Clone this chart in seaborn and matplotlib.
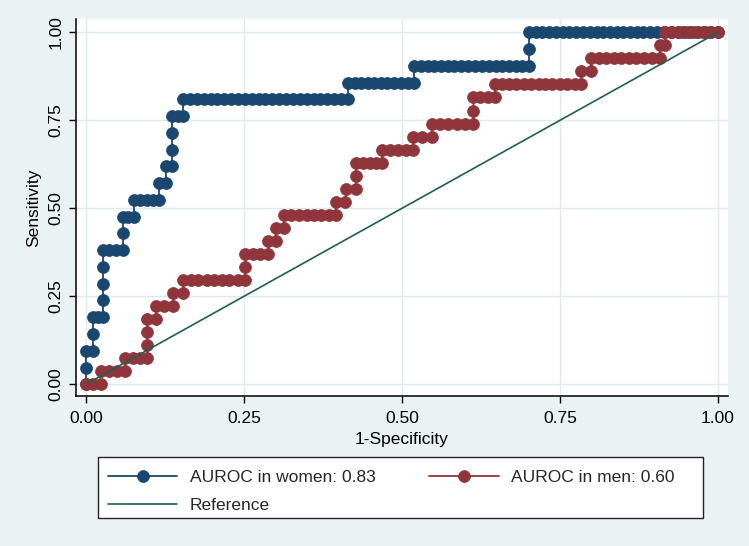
import matplotlib
matplotlib.use("Agg")
import matplotlib.pyplot as plt
from matplotlib.patches import Rectangle
import seaborn as sns
import pandas as pd

# ---------------- data ----------------
# Women: 21 positives; each list = FPR values of the points on one sensitivity level
women_levels = [
    [0.0],
    [0.0],
    [0.0, 0.011],
    [0.011],
    [0.011, 0.019, 0.027],
    [0.027],
    [0.027],
    [0.027],
    [0.027, 0.037, 0.048, 0.058],
    [0.058],
    [0.058, 0.067, 0.076],
    [0.076, 0.086, 0.096, 0.106, 0.116],
    [0.116, 0.127],
    [0.127, 0.136],
    [0.136],
    [0.136],
    [0.136, 0.145, 0.154],
    [0.154, 0.165, 0.176, 0.186, 0.197, 0.208, 0.219, 0.230, 0.240, 0.251, 0.262,
     0.273, 0.284, 0.295, 0.305, 0.316, 0.327, 0.338, 0.349, 0.360, 0.370, 0.381,
     0.392, 0.403, 0.414],
    [0.414, 0.425, 0.435, 0.446, 0.456, 0.467, 0.477, 0.488, 0.498, 0.509, 0.519],
    [0.519, 0.530, 0.541, 0.551, 0.562, 0.573, 0.583, 0.594, 0.605, 0.616, 0.626,
     0.637, 0.648, 0.658, 0.669, 0.680, 0.690, 0.701],
    [0.701],
    [0.701, 0.712, 0.722, 0.733, 0.744, 0.754, 0.765, 0.776, 0.786, 0.797, 0.808,
     0.818, 0.829, 0.840, 0.850, 0.861, 0.872, 0.882, 0.893, 0.904, 0.914, 0.925,
     0.936, 0.946, 0.957, 0.968, 0.979, 0.989, 1.0],
]
women_npos = 21

# Men: 27 positives
men_levels = [
    [0.0, 0.011, 0.023],
    [0.023, 0.036, 0.049, 0.062],
    [0.062, 0.074, 0.086, 0.097],
    [0.097],
    [0.097],
    [0.097, 0.111],
    [0.111, 0.124, 0.138],
    [0.138, 0.154],
    [0.154, 0.166, 0.178, 0.191, 0.203, 0.215, 0.227, 0.240, 0.252],
    [0.252],
    [0.252, 0.264, 0.276, 0.288],
    [0.288, 0.300],
    [0.300, 0.313],
    [0.313, 0.325, 0.337, 0.349, 0.360, 0.372, 0.384, 0.395],
    [0.395, 0.410],
    [0.412, 0.427],
    [0.427],
    [0.427, 0.438, 0.449, 0.459, 0.469],
    [0.469, 0.481, 0.493, 0.506, 0.518],
    [0.518, 0.532, 0.547],
    [0.547, 0.560, 0.573, 0.587, 0.600, 0.613],
    [0.613],
    [0.613, 0.624, 0.636, 0.647],
    [0.647, 0.658, 0.670, 0.681, 0.693, 0.704, 0.716, 0.727, 0.738, 0.750, 0.761,
     0.773, 0.784],
    [0.784, 0.799],
    [0.799, 0.811, 0.823, 0.835, 0.847, 0.859, 0.871, 0.883, 0.896, 0.908],
    [0.908, 0.916],
    [0.916, 0.928, 0.940, 0.952, 0.964, 0.976, 0.988, 1.0],
]
men_npos = 27

ref_x = [0.0, 1.0]
ref_y = [0.0, 1.0]

labels = ["AUROC in women: 0.83", "AUROC in men: 0.60", "Reference"]
ticks = [0.0, 0.25, 0.50, 0.75, 1.00]
tick_labels = ["0.00", "0.25", "0.50", "0.75", "1.00"]


def to_frame(levels, npos):
    rows = []
    for k, fprs in enumerate(levels):
        for f in fprs:
            rows.append((f, k / npos))
    return pd.DataFrame(rows, columns=["fpr", "tpr"])


df_w = to_frame(women_levels, women_npos)
df_m = to_frame(men_levels, men_npos)
df_r = pd.DataFrame({"fpr": ref_x, "tpr": ref_y})

# ---------------- style ----------------
sns.set_style("white")
plt.rcParams["font.family"] = ["Liberation Sans", "DejaVu Sans"]

BG = "#eaf2f3"
GRID = "#deeaee"
BLUE = "#1a476f"
RED = "#90353b"
GREEN = "#1f5f50"

fig = plt.figure(figsize=(7.49, 5.46), dpi=100, facecolor=BG)
ax = fig.add_axes([76 / 749, 1 - 396 / 546, 652 / 749, 377 / 546])
ax.set_facecolor("white")

ms = 8.6
sns.lineplot(data=df_w, x="fpr", y="tpr", ax=ax, estimator=None, sort=False,
             color=BLUE, lw=1.3, marker="o", markersize=ms,
             markeredgecolor=BLUE, markeredgewidth=0.5, label=labels[0], zorder=3)
sns.lineplot(data=df_m, x="fpr", y="tpr", ax=ax, estimator=None, sort=False,
             color=RED, lw=1.3, marker="o", markersize=ms,
             markeredgecolor=RED, markeredgewidth=0.5, label=labels[1], zorder=4)
sns.lineplot(data=df_r, x="fpr", y="tpr", ax=ax, estimator=None, sort=False,
             color=GREEN, lw=1.2, label=labels[2], zorder=5)

ax.set_xlim(-10 / 632, 1 + 10 / 632)
ax.set_ylim(-11.7 / 352, 1 + 13.3 / 352)
ax.set_xticks(ticks)
ax.set_xticklabels(tick_labels)
ax.set_yticks(ticks)
ax.set_yticklabels(tick_labels, rotation=90, va="center")
ax.grid(True, color=GRID, lw=1.0)
ax.set_axisbelow(True)

for s in ["top", "right"]:
    ax.spines[s].set_visible(False)
for s in ["left", "bottom"]:
    ax.spines[s].set_color("black")
    ax.spines[s].set_linewidth(1.1)

fs = 12.5
ax.tick_params(axis="both", direction="out", length=5, width=1.0, color="black",
               labelsize=fs, labelcolor="black", pad=4, left=True, bottom=True)
ax.tick_params(axis="x", pad=6)
ax.set_xlabel("1-Specificity", fontsize=fs, color="black", labelpad=4)
ax.set_ylabel("Sensitivity", fontsize=fs, color="black", labelpad=5)

# legend
handles, labs = ax.get_legend_handles_labels()
ax.get_legend().remove()
order = [0, 2, 1]
leg = fig.legend([handles[i] for i in order], [labs[i] for i in order],
                 loc="upper left", bbox_to_anchor=(101 / 749, 1 - 463 / 546),
                 ncol=2, frameon=False, fontsize=fs, handlelength=4.0,
                 handletextpad=0.7, columnspacing=3.1, labelspacing=0.75,
                 borderaxespad=0, borderpad=0.4)
fig.add_artist(Rectangle((98 / 749, 1 - 518 / 546), 605 / 749, 61 / 546,
                         transform=fig.transFigure, facecolor="white",
                         edgecolor="#222222", lw=1.0, zorder=0))

fig.savefig("out.png", dpi=100, facecolor=BG)
